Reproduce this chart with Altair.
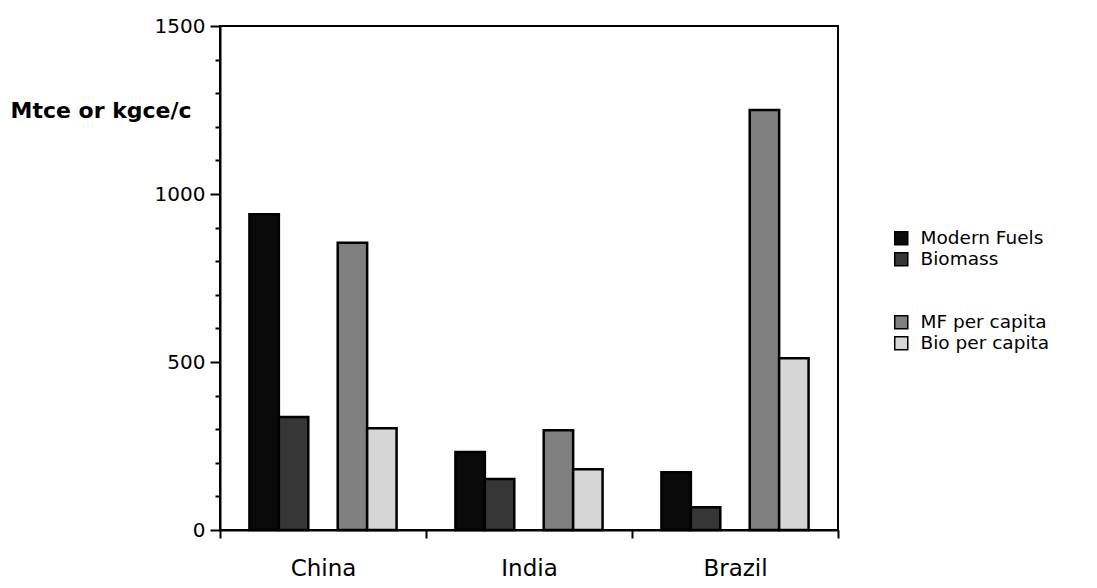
import altair as alt
import pandas as pd

countries = ["China", "India", "Brazil"]
series_names = ["Modern Fuels", "Biomass", "MF per capita", "Bio per capita"]
modern_fuels = [940, 232, 172]
biomass = [336, 152, 68]
mf_per_capita = [855, 297, 1250]
bio_per_capita = [303, 181, 511]
y_ticks = list(range(0, 1501, 100))

rows = []
for i, c in enumerate(countries):
    for s, vals in zip(series_names, [modern_fuels, biomass, mf_per_capita, bio_per_capita]):
        rows.append({"country": c, "series": s, "value": vals[i]})
df = pd.DataFrame(rows)

offset_domain = ["_l", "Modern Fuels", "Biomass", "_gap", "MF per capita", "Bio per capita", "_r"]
legend_domain = ["Modern Fuels", "Biomass", " ", "  ", "MF per capita", "Bio per capita"]
fill_range = ["#0a0a0a", "#363636", "#ffffff", "#ffffff", "#808080", "#d6d6d6"]
stroke_range = ["#000000", "#000000", "#ffffff", "#ffffff", "#000000", "#000000"]

FONT = "DejaVu Sans"

legend_kw = dict(
    title=None, orient="none", legendX=672, legendY=203, padding=0,
    symbolType="square", symbolSize=170, symbolStrokeWidth=1.5,
    labelFont=FONT, labelFontSize=18.5, labelColor="black", labelOffset=10,
    rowPadding=1,
)

chart = alt.Chart(df).mark_bar(strokeWidth=2.5).encode(
    x=alt.X(
        "country:N", sort=countries,
        scale=alt.Scale(paddingInner=0, paddingOuter=0),
        axis=alt.Axis(
            title=None, labelAngle=0, tickBand="extent", tickSize=8, tickWidth=2,
            domainWidth=2, labelPadding=19, labelFont=FONT, labelFontSize=23,
            labelColor="black", tickColor="black", domainColor="black",
        ),
    ),
    xOffset=alt.XOffset(
        "series:N",
        scale=alt.Scale(domain=offset_domain, paddingInner=0, paddingOuter=0),
    ),
    y=alt.Y(
        "value:Q",
        scale=alt.Scale(domain=[0, 1500], nice=False),
        axis=alt.Axis(
            values=y_ticks, format="d",
            labelExpr="datum.value % 500 === 0 ? datum.label : ''",
            tickSize={"condition": {"test": "datum.value % 500 === 0", "value": 10}, "value": 5},
            tickWidth=2, domainWidth=2, grid=False,
            labelPadding=5, labelFont=FONT, labelFontSize=20, labelColor="black",
            tickColor="black", domainColor="black",
            title="Mtce or kgce/c", titleAngle=0, titleAlign="left", titleBaseline="middle",
            titleX=-210, titleY=84, titleFont=FONT, titleFontWeight="bold",
            titleFontSize=22, titleColor="black",
        ),
    ),
    fill=alt.Fill("series:N", scale=alt.Scale(domain=legend_domain, range=fill_range),
                  legend=alt.Legend(**legend_kw)),
    stroke=alt.Stroke("series:N", scale=alt.Scale(domain=legend_domain, range=stroke_range),
                      legend=alt.Legend(**legend_kw)),
).properties(
    width=618, height=504,
    autosize=alt.AutoSizeParams(type="none"),
    padding={"left": 212, "top": 18, "right": 251, "bottom": 50},
    background="white",
).configure_view(
    stroke="black", strokeWidth=2
)

chart.save("out.html", embed_options={"renderer": "svg", "actions": False})
